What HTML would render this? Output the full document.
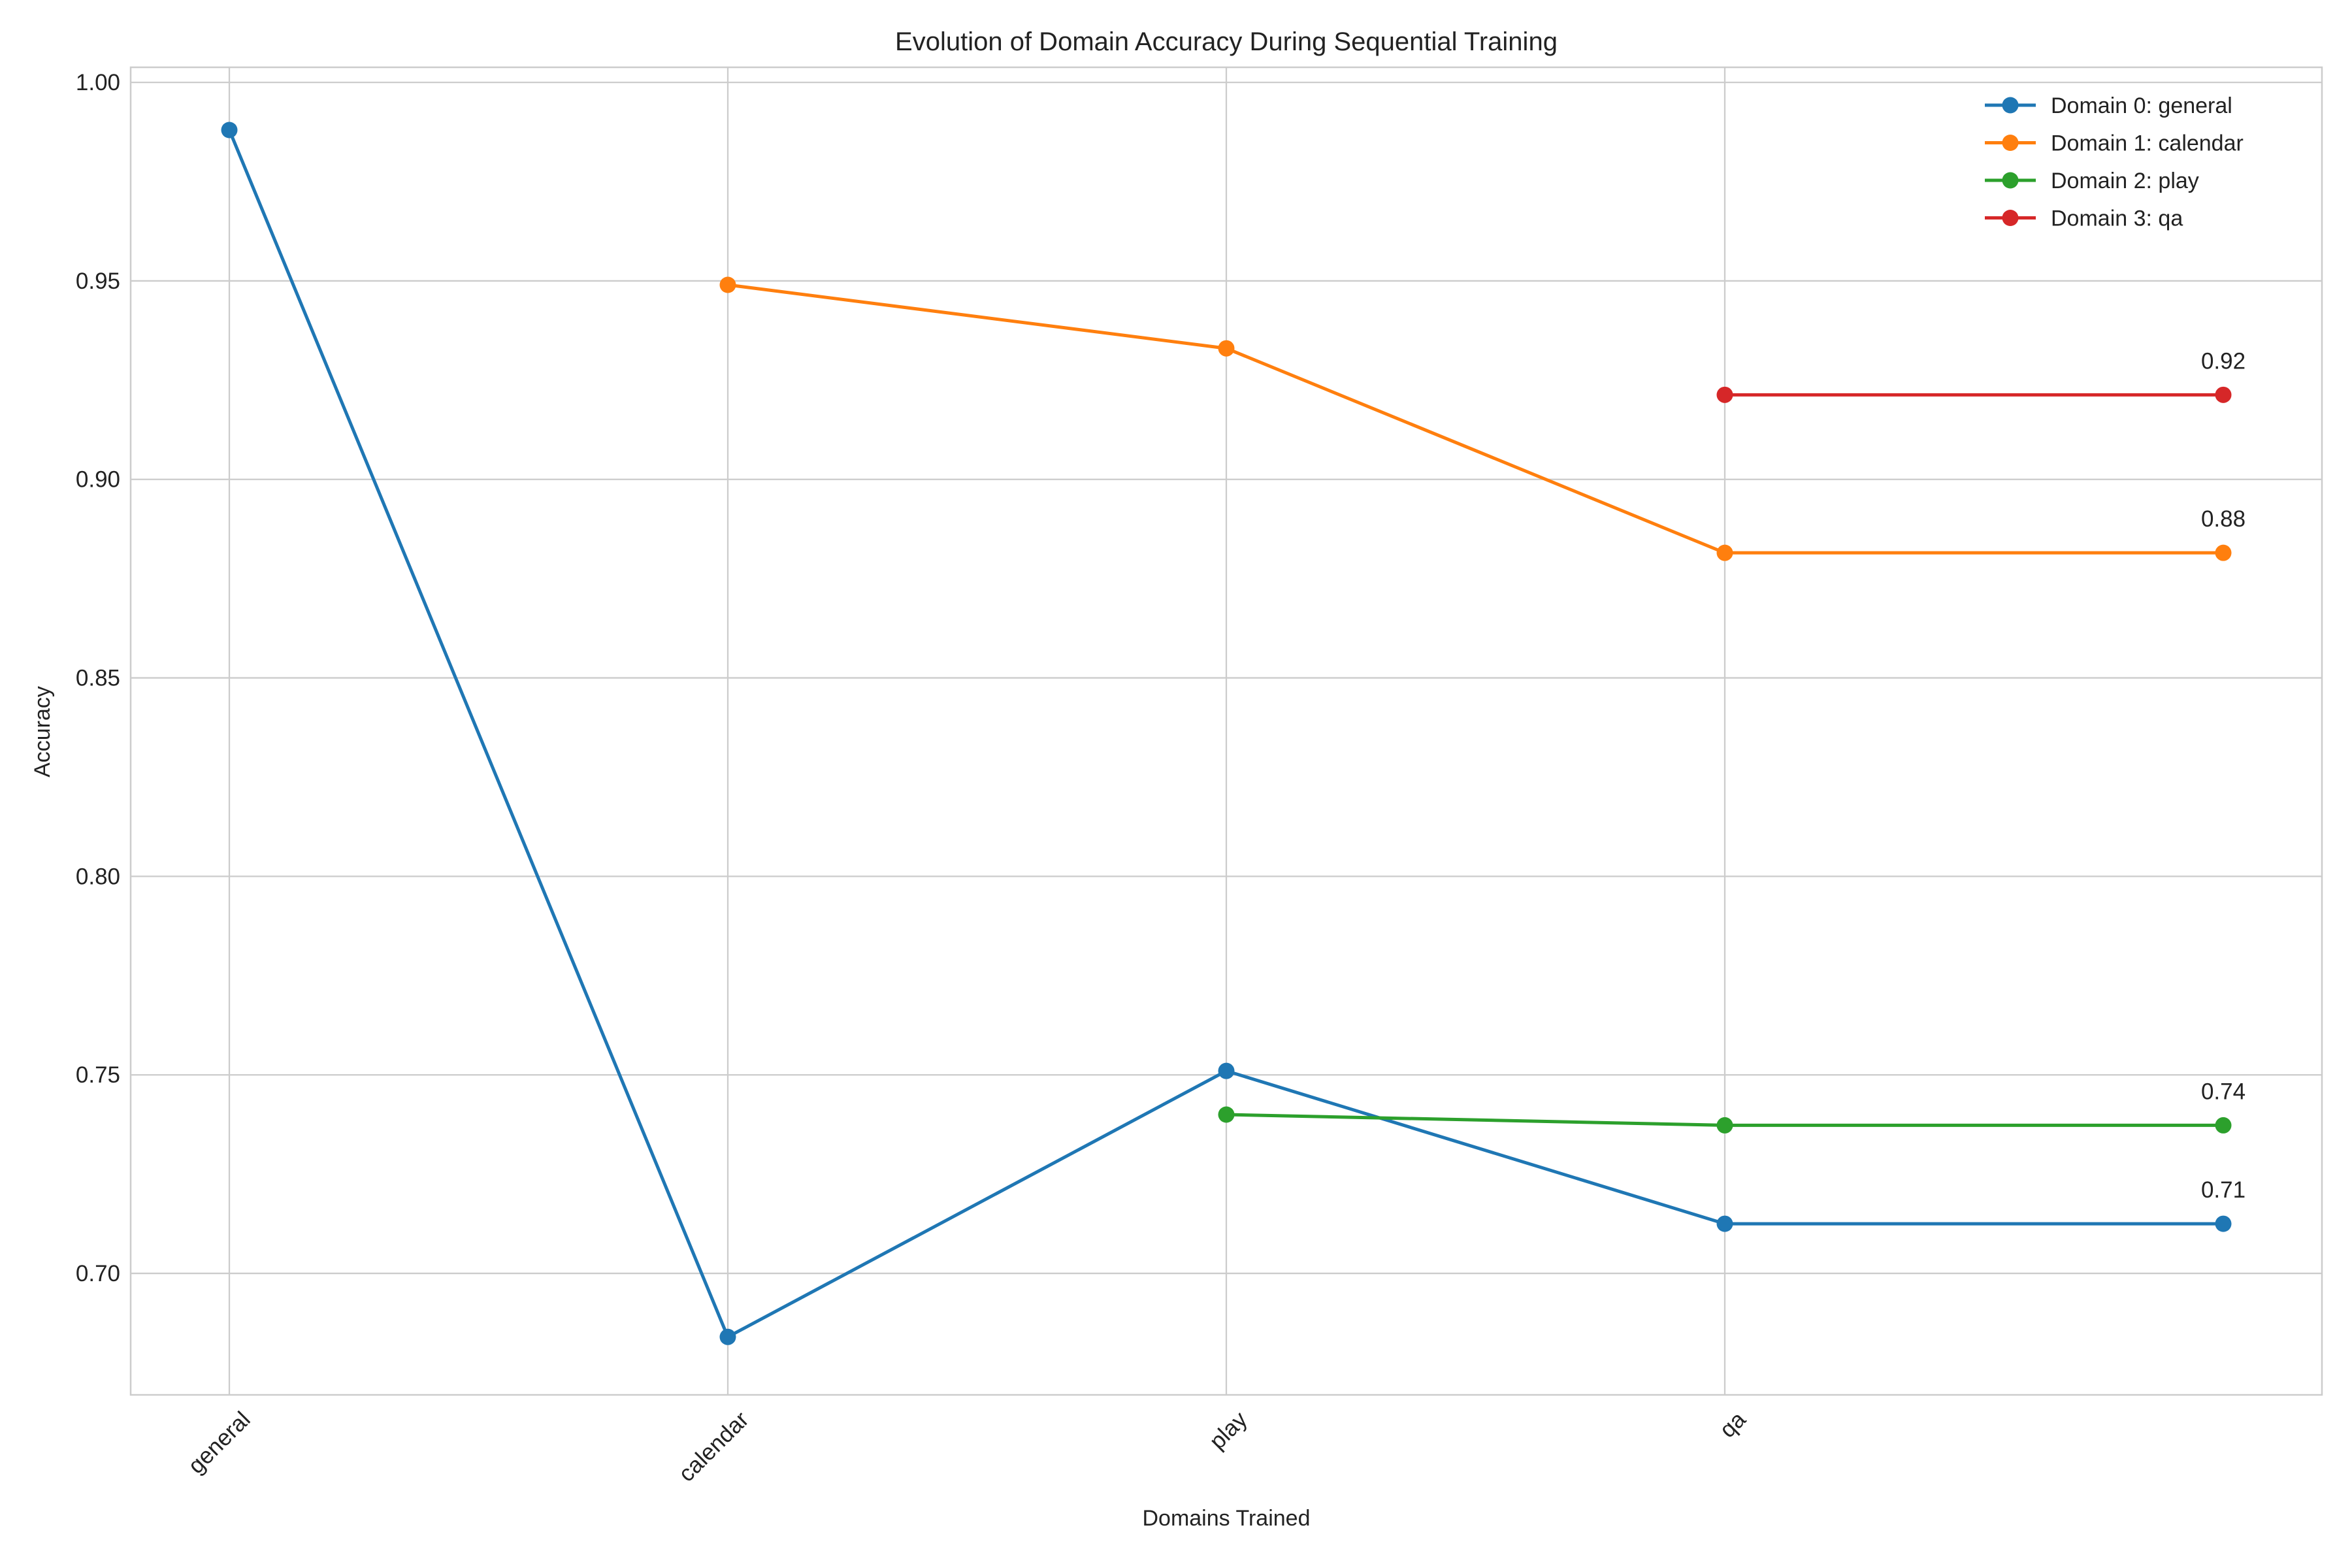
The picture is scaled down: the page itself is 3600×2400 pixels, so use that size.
<!DOCTYPE html>
<html><head><meta charset="utf-8"><style>
html,body{margin:0;padding:0;background:#fff;}
svg{display:block;font-family:"Liberation Sans","DejaVu Sans",sans-serif;}
</style></head><body>
<svg id="chart" width="3600" height="2400" viewBox="0 0 3600 2400" xmlns="http://www.w3.org/2000/svg">
<rect width="3600" height="2400" fill="#fff"/>
<text x="1877" y="77" font-size="40" text-anchor="middle" fill="#222">Evolution of Domain Accuracy During Sequential Training</text>
<text x="1877" y="2335" font-size="34" text-anchor="middle" fill="#222">Domains Trained</text>
<text x="0" y="0" font-size="34" text-anchor="middle" fill="#222" transform="translate(76,1120) rotate(-90)">Accuracy</text>
<g id="grid"></g><g id="series"></g><g id="legend"></g>
</svg>
<script>
const categories = ["general","calendar","play","qa"];
const yTicks = [0.70,0.75,0.80,0.85,0.90,0.95,1.00];
const seriesNames = ["Domain 0: general","Domain 1: calendar","Domain 2: play","Domain 3: qa"];
const seriesColors = ["#1f77b4","#ff7f0e","#2ca02c","#d62728"];
const domain0 = [0.988,0.684,0.751,0.7125,0.7125];
const domain1 = [null,0.949,0.933,0.8815,0.8815];
const domain2 = [null,null,0.740,0.7373,0.7373];
const domain3 = [null,null,null,0.9213,0.9213];
const finalLabels = ["0.71","0.88","0.74","0.92"];
const allSeries=[domain0,domain1,domain2,domain3];
const NS="http://www.w3.org/2000/svg";
const L=200,R=3554,T=103,B=2135;
const yMin=0.6694,yMax=1.0038;
function xs(i){return 351+i*763;}
function ys(v){return B-(v-yMin)/(yMax-yMin)*(B-T);}
function mk(tag,attrs,parent){const e=document.createElementNS(NS,tag);for(const k in attrs)e.setAttribute(k,attrs[k]);parent.appendChild(e);return e;}
const grid=document.getElementById('grid');
yTicks.forEach(v=>{
  const g=mk('line',{x1:L,x2:R,y1:ys(v),y2:ys(v),stroke:'#cccccc','stroke-width':2.3},grid);
  
  
  const t=mk('text',{x:L-16,y:ys(v)+12,'font-size':35,'text-anchor':'end',fill:'#222'},grid);
  
  
  t.textContent=v.toFixed(2);
});
categories.forEach((c,i)=>{
  const g=mk('line',{x1:xs(i),x2:xs(i),y1:T,y2:B,stroke:'#cccccc','stroke-width':2.3},grid);
  
  
  const t=mk('text',{x:0,y:0,'font-size':35,'text-anchor':'end',fill:'#222',transform:`translate(${xs(i)+34},${B+40}) rotate(-45)`},grid);
  
  
  t.textContent=c;
});
const frame=mk('rect',{x:L,y:T,width:R-L,height:B-T,fill:'none',stroke:'#cccccc','stroke-width':2.5},grid);


const sg=document.getElementById('series');
allSeries.forEach((s,k)=>{
  const pts=[];s.forEach((v,i)=>{if(v!==null)pts.push([xs(i),ys(v)]);});
  const pl=mk('polyline',{points:pts.map(p=>p.join(',')).join(' '),fill:'none',stroke:seriesColors[k],'stroke-width':5},sg);
  
  
  pts.forEach(p=>{
    const c=mk('circle',{cx:p[0],cy:p[1],r:12.5,fill:seriesColors[k]},sg);
    
    
  });
  const last=pts[pts.length-1];
  const t=mk('text',{x:last[0],y:last[1]-40,'font-size':35,'text-anchor':'middle',fill:'#222'},sg);
  
  
  t.textContent=finalLabels[k];
});
const lg=document.getElementById('legend');
seriesNames.forEach((n,k)=>{
  const y=161+k*57.5;
  const l=mk('line',{x1:3038,x2:3116,y1:y,y2:y,stroke:seriesColors[k],'stroke-width':5},lg);
  
  
  const c=mk('circle',{cx:3077,cy:y,r:12.5,fill:seriesColors[k]},lg);
  
  
  const t=mk('text',{x:3139,y:y+12,'font-size':34,fill:'#222'},lg);
  
  
  t.textContent=n;
});
</script>
</body></html>
